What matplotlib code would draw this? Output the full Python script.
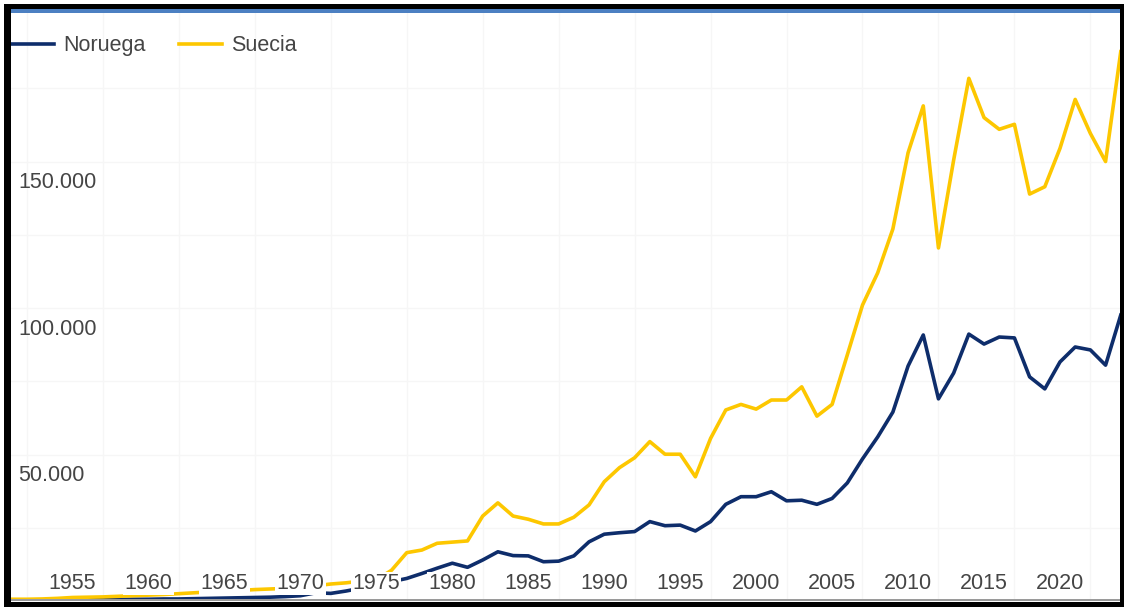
import numpy as np
import matplotlib.pyplot as plt
from matplotlib.patches import Rectangle
from matplotlib.transforms import blended_transform_factory

# Datos (miles)
years = list(range(1951, 2025))

noruega = [
    0.2, 0.2, 0.3, 0.3, 0.4, 0.4, 0.5, 0.5, 0.6, 0.6,        # 1951-1960
    0.7, 0.7, 0.8, 0.9, 1.0, 1.1, 1.2, 1.3, 1.5, 1.8,        # 1961-1970
    2.8, 2.6, 3.4, 4.4, 5.6, 6.6, 7.7, 9.4, 11.2, 12.9,      # 1971-1980
    11.5, 14.0, 16.8, 15.5, 15.4, 13.4, 13.6, 15.4, 20.2, 22.8,  # 1981-1990
    23.3, 23.7, 27.1, 25.7, 25.9, 23.9, 27.1, 33.0, 35.6, 35.6,  # 1991-2000
    37.3, 34.2, 34.4, 33.0, 35.0, 40.3, 48.5, 56.0, 64.5, 80.2,  # 2001-2010
    90.8, 69.0, 77.8, 91.1, 87.7, 90.1, 89.8, 76.5, 72.4, 81.6,  # 2011-2020
    86.7, 85.7, 80.5, 97.6,                                      # 2021-2024
]

suecia = [
    0.6, 0.6, 0.7, 0.9, 1.2, 1.3, 1.4, 1.6, 1.8, 2.0,        # 1951-1960
    2.2, 2.5, 2.8, 3.1, 3.3, 3.6, 3.9, 4.1, 4.3, 4.7,        # 1961-1970
    5.2, 5.8, 6.2, 6.8, 7.2, 10.5, 16.5, 17.4, 19.7, 20.1,   # 1971-1980
    20.5, 29.0, 33.5, 29.0, 27.9, 26.3, 26.3, 28.6, 32.8, 40.7,  # 1981-1990
    45.5, 48.9, 54.4, 50.1, 50.1, 42.4, 55.5, 65.2, 67.1, 65.5,  # 1991-2000
    68.6, 68.6, 73.1, 63.1, 67.1, 84.0, 101.0, 112.0, 127.0, 153.0,  # 2001-2010
    169.0, 120.5, 150.5, 178.4, 165.0, 161.0, 162.7, 138.9, 141.4, 154.5,  # 2011-2020
    171.2, 159.6, 150.0, 187.5,                                  # 2021-2024
]

x_ticks = [1955, 1960, 1965, 1970, 1975, 1980, 1985, 1990, 1995, 2000, 2005, 2010, 2015, 2020]
y_ticks = [50, 100, 150]
y_labels = ["50.000", "100.000", "150.000"]

c_nor = "#0e2d6b"
c_sue = "#fdc700"
c_txt = "#454545"

W, H = 1124, 607
fig = plt.figure(figsize=(W / 100, H / 100), dpi=100)
fig.patch.set_facecolor("white")

# axes box in pixels (from top-left)
left, right, top, bottom = 11, 1120, 13, 601
ax = fig.add_axes([left / W, 1 - bottom / H, (right - left) / W, (bottom - top) / H])
ax.set_facecolor("white")

ax.plot(years, noruega, color=c_nor, lw=2.6, label="Noruega", zorder=3)
ax.plot(years, suecia, color=c_sue, lw=2.6, label="Suecia", zorder=3)

ax.set_xlim(1950.95, 2023.95)
ax.set_ylim(0, 200.7)

# faint grid
for gx in range(1952, 2024, 5):
    ax.axvline(gx, color="#f6f6f6", lw=1, zorder=1)
for gy in range(25, 200, 25):
    ax.axhline(gy, color="#f6f6f6", lw=1, zorder=1)

ax.set_xticks([])
ax.set_yticks([])
for s in ax.spines.values():
    s.set_visible(False)

fs = 15.5
fam = ["Liberation Sans", "DejaVu Sans"]

# x labels inside the plot, over the lines
tr = blended_transform_factory(ax.transData, ax.transAxes)
for yr in x_ticks:
    ax.text(yr, 0.03, str(yr), transform=tr, ha="center", va="center",
            fontsize=fs, family=fam, color=c_txt, zorder=5,
            bbox=dict(facecolor="white", edgecolor="none", pad=1.0))

# y labels, just below their gridline
for v, lab in zip(y_ticks, y_labels):
    ax.text(0.0065, v - 7.3, lab, transform=blended_transform_factory(ax.transAxes, ax.transData),
            ha="left", va="center", fontsize=fs, family=fam, color=c_txt, zorder=5)

leg = ax.legend(loc="upper left", bbox_to_anchor=(0.0, 0.962), ncol=2, frameon=False,
                prop={"family": fam, "size": fs}, handlelength=2.0, handletextpad=0.42,
                columnspacing=1.55, borderpad=0, borderaxespad=0)
for t in leg.get_texts():
    t.set_color(c_txt)
for l in leg.get_lines():
    l.set_linewidth(2.6)


def px_rect(x0, y0, x1, y1, color):
    fig.patches.append(Rectangle((x0 / W, 1 - y1 / H), (x1 - x0) / W, (y1 - y0) / H,
                                 transform=fig.transFigure, facecolor=color,
                                 edgecolor="none", zorder=10))


# frame around the screenshot
px_rect(4, 4, W, 9.5, "black")
px_rect(11, 9.5, 1120, 12.5, "#4c80c2")
px_rect(4, 4, 11, H, "black")
px_rect(1120, 4, W, H, "black")
px_rect(11, 598.5, 1120, 600.5, "#9a9a9a")
px_rect(4, 601.5, W, H, "black")

fig.savefig("out.png", dpi=100)
